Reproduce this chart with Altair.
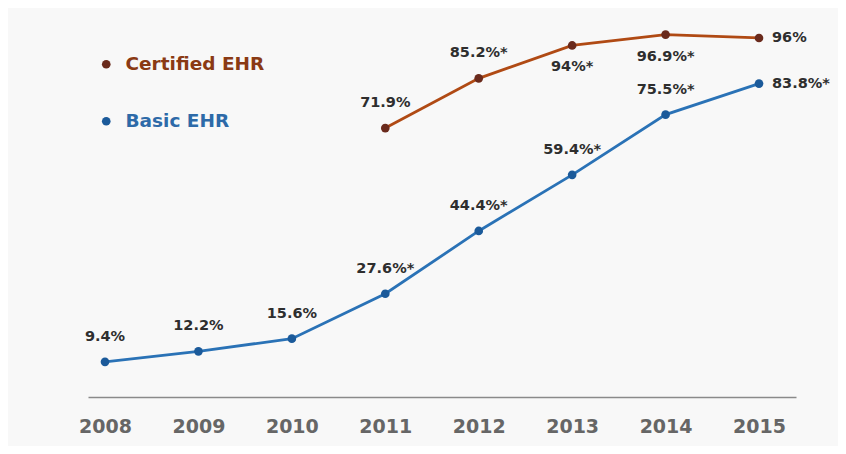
import altair as alt
import pandas as pd

years_basic = [2008, 2009, 2010, 2011, 2012, 2013, 2014, 2015]
basic_values = [9.4, 12.2, 15.6, 27.6, 44.4, 59.4, 75.5, 83.8]
basic_significant = [False, False, False, True, True, True, True, True]

years_certified = [2011, 2012, 2013, 2014, 2015]
certified_values = [71.9, 85.2, 94.0, 96.9, 96.0]
certified_significant = [False, True, True, True, False]

series_names = ["Certified EHR", "Basic EHR"]
line_colors = ["#b04a14", "#2a72b6"]
point_colors = ["#6a2a1c", "#1b5a9a"]
label_colors = ["#8a3a14", "#2d6aa8"]
certified_below_years = [2013, 2014]

rows = []
for name, yrs, vals, sig in [
    ("Certified EHR", years_certified, certified_values, certified_significant),
    ("Basic EHR", years_basic, basic_values, basic_significant),
]:
    last = max(yrs)
    for y, v, s in zip(yrs, vals, sig):
        if y == last:
            place = "right"
        elif name == "Certified EHR" and y in certified_below_years:
            place = "below"
        else:
            place = "above"
        rows.append({"series": name, "year": y, "value": v,
                     "label": f"{v:g}%" + ("*" if s else ""), "place": place})
df = pd.DataFrame(rows)

FONT = "DejaVu Sans"
x = alt.X("year:Q", scale=alt.Scale(domain=[2007.818, 2015.396], nice=False, zero=False),
          axis=alt.Axis(values=years_basic, format="d", ticks=False, grid=False,
                        domainColor="#8a8a8a", domainWidth=1.5, labelFontSize=19,
                        labelFontWeight="bold", labelColor="#666666", labelPadding=20,
                        labelFont=FONT, title=None))
y = alt.Y("value:Q", scale=alt.Scale(domain=[0, 100], nice=False), axis=None)

base = alt.Chart(df)

lines = base.mark_line(strokeWidth=2.8).encode(
    x=x, y=y,
    color=alt.Color("series:N", scale=alt.Scale(domain=series_names, range=line_colors), legend=None),
    detail="series:N",
)

label_expr = ("datum.label == 'Certified EHR' ? '%s' : '%s'" % (label_colors[0], label_colors[1]))
points = base.mark_point(filled=True, size=75, opacity=1, shape="circle").encode(
    x=x, y=y,
    fill=alt.Fill("series:N", scale=alt.Scale(domain=series_names, range=point_colors),
                  legend=alt.Legend(orient="none", legendX=9, legendY=32, title=None,
                                    symbolType="circle", symbolSize=75, symbolStrokeWidth=0,
                                    labelFontSize=18.5, labelFontWeight="bold", labelFont=FONT,
                                    labelColor=alt.ExprRef(expr=label_expr),
                                    labelOffset=10, rowPadding=38)),
)

txt_style = dict(fontSize=14.5, fontWeight="bold", font=FONT, color="#2e2e2e")
above = base.mark_text(dy=-25, align="center", baseline="middle", **txt_style).encode(
    x=x, y=y, text="label:N").transform_filter(alt.datum.place == "above")
below = base.mark_text(dy=22, align="center", baseline="middle", **txt_style).encode(
    x=x, y=y, text="label:N").transform_filter(alt.datum.place == "below")
right = base.mark_text(dx=13, align="left", baseline="middle", **txt_style).encode(
    x=x, y=y, text="label:N").transform_filter(alt.datum.place == "right")

chart = alt.layer(lines, points, above, below, right).resolve_scale(
    color="independent", fill="independent"
).properties(
    width=708, height=374,
    autosize=alt.AutoSizeParams(type="none"),
    padding={"left": 80, "top": 15, "right": 42, "bottom": 49},
    background="#f8f8f8",
).configure_view(stroke=None)

chart.save("out.html", embed_options={"renderer": "svg", "actions": False})
